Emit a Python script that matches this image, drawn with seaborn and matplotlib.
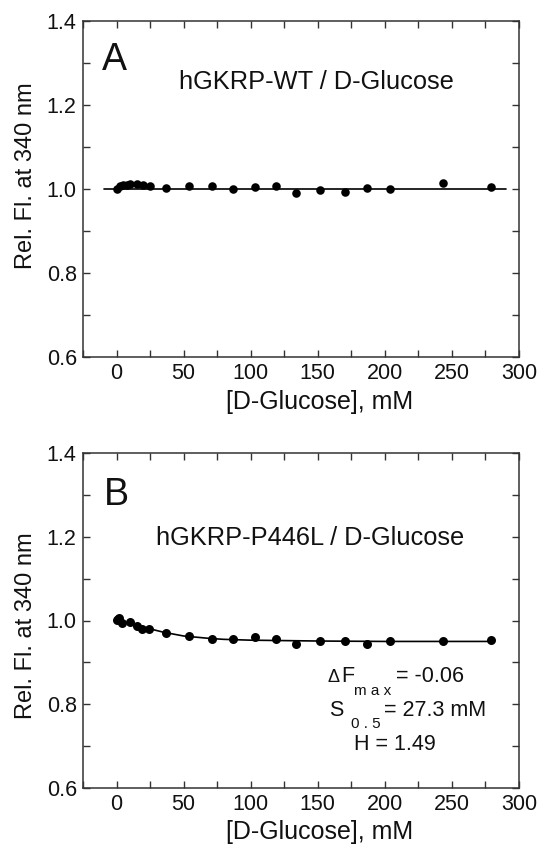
import matplotlib
matplotlib.use("Agg")
import matplotlib.pyplot as plt
import seaborn as sns
import pandas as pd
from matplotlib.ticker import MultipleLocator

# ---- data ----
glucose_A = [0, 2.5, 5, 7.5, 10, 15, 20, 25, 37, 54, 71, 87, 103, 119, 134, 152, 170, 187, 204, 243, 279]
wt_fl = [1.000, 1.006, 1.009, 1.010, 1.012, 1.012, 1.009, 1.007, 1.002, 1.007, 1.006, 1.000,
         1.005, 1.008, 0.990, 0.998, 0.994, 1.002, 1.000, 1.014, 1.004]
glucose_B = [0, 0.8, 1.8, 4, 10, 15, 19, 24, 37, 54, 71, 87, 103, 119, 134, 152, 170, 187, 204, 243, 279]
p446l_fl = [1.001, 1.004, 1.006, 0.994, 0.996, 0.988, 0.979, 0.980, 0.970, 0.963, 0.955, 0.956, 0.961,
            0.957, 0.945, 0.952, 0.952, 0.945, 0.950, 0.952, 0.953]

wt_fit_x = [-9, 290]
wt_fit_y = [1.0, 1.0]
fit_x = [0, 5, 10, 15, 20, 25, 30, 35, 40, 50, 60, 70, 80, 100, 125, 150, 200, 250, 279]
fit_y = [1.000, 0.997, 0.993, 0.988, 0.984, 0.980, 0.976, 0.972, 0.969, 0.963, 0.960, 0.957,
         0.955, 0.953, 0.952, 0.951, 0.950, 0.950, 0.950]

x_ticks = [0, 50, 100, 150, 200, 250, 300]
y_ticks = [0.6, 0.8, 1.0, 1.2, 1.4]

sns.set_style("ticks")
plt.rcParams['font.family'] = ['Liberation Sans', 'DejaVu Sans']

W, H = 541, 849
fig = plt.figure(figsize=(W / 100, H / 100), dpi=100)
L, R = 83 / W, 519 / W
axA = fig.add_axes([L, 1 - 357 / H, R - L, (357 - 21) / H])
axB = fig.add_axes([L, 1 - 788 / H, R - L, (788 - 453) / H])

dfA = pd.DataFrame({"x": glucose_A, "y": wt_fl})
dfB = pd.DataFrame({"x": glucose_B, "y": p446l_fl})

sns.lineplot(x=wt_fit_x, y=wt_fit_y, ax=axA, color="black", lw=1.2)
sns.scatterplot(data=dfA, x="x", y="y", ax=axA, color="black", s=38, edgecolor="black", linewidth=0, zorder=3)
sns.lineplot(x=fit_x, y=fit_y, ax=axB, color="black", lw=1.2)
sns.scatterplot(data=dfB, x="x", y="y", ax=axB, color="black", s=42, edgecolor="black", linewidth=0, zorder=3)

for ax in (axA, axB):
    ax.set_xlim(-25, 300)
    ax.set_ylim(0.6, 1.4)
    ax.set_xticks(x_ticks)
    ax.set_yticks(y_ticks)
    ax.set_yticklabels([f"{v:.1f}" for v in y_ticks])
    ax.xaxis.set_minor_locator(MultipleLocator(25))
    ax.yaxis.set_minor_locator(MultipleLocator(0.1))
    ax.tick_params(which="both", direction="in", top=True, right=True, width=1, colors="#333333",
                   labelcolor="#111111", length=5)
    ax.tick_params(which="major", labelsize=15.5, pad=4.5)
    for s in ax.spines.values():
        s.set_linewidth(1.1)
        s.set_color("#333333")
    ax.set_xlabel("[D-Glucose], mM", fontsize=18, color="#111111")
    ax.set_ylabel("Rel. Fl. at 340 nm", fontsize=17, color="#111111")

axA.xaxis.set_label_coords(0.542, -0.098)
axB.xaxis.set_label_coords(0.542, -0.096)
axA.yaxis.set_label_coords(-0.105, 0.539)
axB.yaxis.set_label_coords(-0.105, 0.484)

axA.text(0.043, 0.885, "A", transform=axA.transAxes, fontsize=27, ha="left", va="center", color="#111111")
axA.text(0.535, 0.818, "hGKRP-WT / D-Glucose", transform=axA.transAxes, fontsize=18.3,
         ha="center", va="center", color="#111111")
axB.text(0.048, 0.875, "B", transform=axB.transAxes, fontsize=27, ha="left", va="center", color="#111111")
axB.text(0.522, 0.746, "hGKRP-P446L / D-Glucose", transform=axB.transAxes, fontsize=18.3,
         ha="center", va="center", color="#111111")


def ptext(x, y, s, size, **kw):
    fig.text(x / W, 1 - y / H, s, fontsize=size, ha="left", va="center", color="#111111", **kw)


ptext(327, 677, "\u0394", 13)
ptext(341, 677, "F", 15.5)
ptext(354, 691, "m a x", 11)
ptext(396, 677, "= -0.06", 15.5)
ptext(329, 711, "S", 15.5)
ptext(351, 724, "0 . 5", 11)
ptext(384, 711, "= 27.3 mM", 15.5)
ptext(354, 745, "H = 1.49", 15.5)

fig.savefig("out.png", dpi=100)
